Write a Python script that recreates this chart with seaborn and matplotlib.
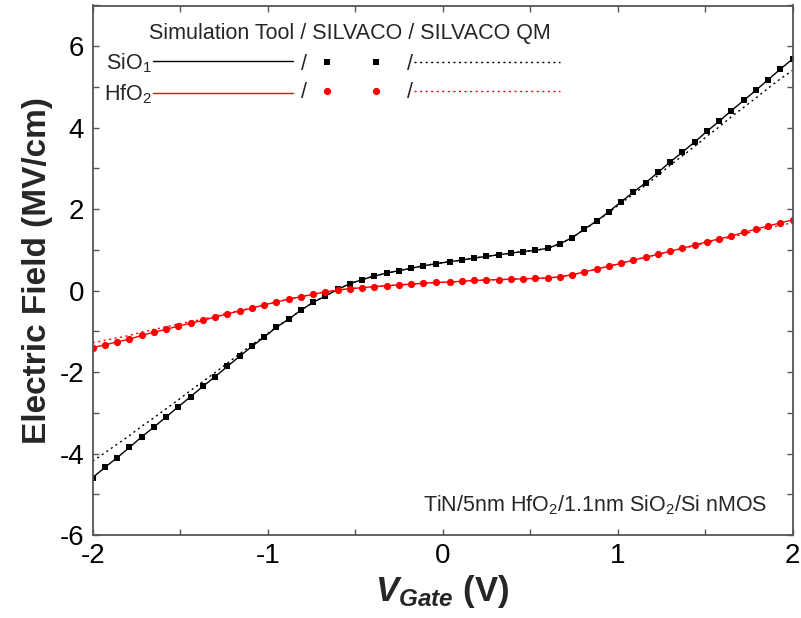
import matplotlib
matplotlib.use("Agg")
import numpy as np
import pandas as pd
import matplotlib.pyplot as plt
import seaborn as sns
from matplotlib.lines import Line2D
from matplotlib.legend_handler import HandlerLine2D
from matplotlib.ticker import MultipleLocator

# ---------------- data ----------------
gate_v = [-2.00, -1.93, -1.86, -1.79, -1.72, -1.65, -1.58, -1.51, -1.44, -1.37,
          -1.30, -1.23, -1.16, -1.09, -1.02, -0.95, -0.88, -0.81, -0.74, -0.67,
          -0.60, -0.53, -0.46, -0.39, -0.32, -0.25, -0.18, -0.11, -0.04, 0.04,
          0.11, 0.18, 0.25, 0.32, 0.39, 0.46, 0.53, 0.60, 0.67, 0.74,
          0.81, 0.88, 0.95, 1.02, 1.09, 1.16, 1.23, 1.30, 1.37, 1.44,
          1.51, 1.58, 1.65, 1.72, 1.79, 1.86, 1.93, 2.00]

sio2_field = [-4.59, -4.34, -4.10, -3.85, -3.59, -3.35, -3.10, -2.85, -2.60, -2.35,
              -2.11, -1.86, -1.61, -1.37, -1.14, -0.90, -0.70, -0.48, -0.29, -0.13,
              0.03, 0.17, 0.27, 0.36, 0.43, 0.49, 0.55, 0.61, 0.66, 0.71,
              0.75, 0.80, 0.84, 0.88, 0.92, 0.96, 0.99, 1.04, 1.15, 1.30,
              1.51, 1.71, 1.94, 2.18, 2.42, 2.65, 2.90, 3.16, 3.40, 3.65,
              3.91, 4.16, 4.42, 4.67, 4.92, 5.18, 5.44, 5.69]

sio2_field_qm = [-4.19, -3.98, -3.77, -3.56, -3.33, -3.12, -2.90, -2.68, -2.45, -2.23,
                 -2.01, -1.78, -1.55, -1.33, -1.12, -0.89, -0.70, -0.48, -0.29, -0.13,
                 0.03, 0.17, 0.27, 0.36, 0.43, 0.49, 0.55, 0.61, 0.66, 0.71,
                 0.75, 0.80, 0.84, 0.88, 0.92, 0.96, 0.99, 1.04, 1.15, 1.30,
                 1.51, 1.70, 1.92, 2.15, 2.37, 2.59, 2.83, 3.08, 3.31, 3.54,
                 3.79, 4.02, 4.27, 4.50, 4.73, 4.97, 5.20, 5.41]

hfo2_field = [-1.40, -1.33, -1.26, -1.19, -1.10, -1.02, -0.95, -0.87, -0.80, -0.73,
              -0.65, -0.57, -0.50, -0.43, -0.35, -0.28, -0.21, -0.15, -0.09, -0.03,
              0.01, 0.05, 0.07, 0.10, 0.12, 0.14, 0.16, 0.18, 0.20, 0.21,
              0.23, 0.25, 0.26, 0.27, 0.28, 0.29, 0.30, 0.31, 0.34, 0.39,
              0.46, 0.53, 0.60, 0.67, 0.75, 0.82, 0.89, 0.97, 1.04, 1.12,
              1.20, 1.27, 1.34, 1.43, 1.51, 1.59, 1.66, 1.74]

hfo2_field_qm = [-1.28, -1.22, -1.16, -1.10, -1.02, -0.95, -0.89, -0.82, -0.76, -0.70,
                 -0.63, -0.55, -0.49, -0.42, -0.35, -0.28, -0.21, -0.15, -0.09, -0.03,
                 0.01, 0.05, 0.07, 0.10, 0.12, 0.14, 0.16, 0.18, 0.20, 0.21,
                 0.23, 0.25, 0.26, 0.27, 0.28, 0.29, 0.30, 0.31, 0.34, 0.39,
                 0.46, 0.53, 0.60, 0.67, 0.75, 0.82, 0.89, 0.96, 1.03, 1.10,
                 1.18, 1.24, 1.31, 1.39, 1.47, 1.54, 1.60, 1.67]

row_labels = ["SiO$_1$", "HfO$_2$"]
legend_title = "Simulation Tool / SILVACO / SILVACO QM"
note_text = "TiN/5nm HfO$_2$/1.1nm SiO$_2$/Si nMOS"
x_ticks = [-2, -1, 0, 1, 2]
y_ticks = [-6, -4, -2, 0, 2, 4, 6]

df = pd.DataFrame({"V": gate_v, "sio2": sio2_field, "sio2_qm": sio2_field_qm,
                   "hfo2": hfo2_field, "hfo2_qm": hfo2_field_qm})

# ---------------- style ----------------
sns.set_style("ticks")
plt.rcParams["font.family"] = ["Liberation Sans", "DejaVu Sans"]
plt.rcParams["mathtext.fontset"] = "custom"
plt.rcParams["mathtext.rm"] = "Liberation Sans"
plt.rcParams["mathtext.it"] = "Liberation Sans:italic:bold"
plt.rcParams["mathtext.bf"] = "Liberation Sans:bold"

RED = "#ff0000"
BLK = "#000000"
DOT = (0, (1.5, 2.5))
SQ = 4.8
CI = 5.2

fig = plt.figure(figsize=(8.01, 6.18), dpi=100)
ax = fig.add_axes([92.7 / 801, 1 - 535 / 618, 700 / 801, 529.5 / 618])

# QM dotted lines
sns.lineplot(data=df, x="V", y="sio2_qm", color=BLK, linewidth=1.0,
             linestyle=DOT, ax=ax, sort=False, estimator=None)
sns.lineplot(data=df, x="V", y="hfo2_qm", color=RED, linewidth=1.0,
             linestyle=DOT, ax=ax, sort=False, estimator=None)
# Simulation tool (solid) + SILVACO (markers)
sns.lineplot(data=df, x="V", y="sio2", color=BLK, linewidth=1.0,
             marker="s", markersize=SQ, markeredgewidth=0, ax=ax,
             sort=False, estimator=None)
sns.lineplot(data=df, x="V", y="hfo2", color=RED, linewidth=1.0,
             marker="o", markersize=CI, markeredgewidth=0, ax=ax,
             sort=False, estimator=None)

ax.set_xlim(-2, 2)
ax.set_ylim(-6, 7)
ax.set_xticks(x_ticks)
ax.set_yticks(y_ticks)
ax.xaxis.set_minor_locator(MultipleLocator(0.5))
ax.yaxis.set_minor_locator(MultipleLocator(1))
ax.set_xticklabels([str(t) for t in x_ticks])
ax.set_yticklabels([str(t) for t in y_ticks])

spine_c = "#555555"
for s in ax.spines.values():
    s.set_color(spine_c)
    s.set_linewidth(1.3)
ax.tick_params(which="both", direction="in", top=True, right=True,
               length=4.5, width=1.0, color=spine_c, labelcolor="black",
               labelsize=20)
ax.tick_params(axis="x", pad=6)
ax.tick_params(axis="y", pad=6)

ax.set_xlabel(r"$V_{Gate}$ (V)", fontsize=25, fontweight="bold")
ax.set_ylabel("Electric Field (MV/cm)", fontsize=24, fontweight="bold")
ax.xaxis.set_label_coords(0.5, -0.071)
ax.yaxis.set_label_coords(-0.057, 0.5)

# ---------------- legend (three aligned legends) ----------------
fs = 15.5
def px2ax(xp, yp):
    return ((xp - 92.7) / 700.0, (535.0 - yp) / 529.5)

ax.text(*px2ax(149, 34), legend_title, transform=ax.transAxes,
        fontsize=fs, ha="left", va="center")

yc = (61.7 + 95.0) / 2.0
h_solid = [Line2D([], [], color=BLK, lw=1.0), Line2D([], [], color=RED, lw=1.0)]
leg1 = ax.legend(h_solid, row_labels, loc="center left",
                 bbox_to_anchor=px2ax(104, yc), frameon=False, fontsize=fs,
                 markerfirst=False, handlelength=140 / 21.5, handletextpad=0.05,
                 labelspacing=0.35, borderpad=0, borderaxespad=0)
ax.add_artist(leg1)

h_mark = [Line2D([], [], color=BLK, ls="none", marker="s", markersize=SQ, mew=0),
          Line2D([], [], color=RED, ls="none", marker="o", markersize=CI, mew=0)]
leg2 = ax.legend(h_mark, ["/", "/"], loc="center left",
                 bbox_to_anchor=px2ax(301, yc), frameon=False, fontsize=fs,
                 markerfirst=False, handlelength=48 / 21.5, handletextpad=0.95,
                 labelspacing=0.35, borderpad=0, borderaxespad=0, numpoints=2,
                 handler_map={Line2D: HandlerLine2D(marker_pad=0, numpoints=2)})
ax.add_artist(leg2)

h_dot = [Line2D([], [], color=BLK, lw=1.0, ls=DOT),
         Line2D([], [], color=RED, lw=1.0, ls=DOT)]
leg3 = ax.legend(h_dot, ["/", "/"], loc="center left",
                 bbox_to_anchor=px2ax(407, yc), frameon=False, fontsize=fs,
                 markerfirst=False, handlelength=146 / 21.5, handletextpad=0.05,
                 labelspacing=0.35, borderpad=0, borderaxespad=0)

ax.text(*px2ax(767, 505), note_text, transform=ax.transAxes, fontsize=fs,
        ha="right", va="center")

fig.savefig("out.png", dpi=100)
